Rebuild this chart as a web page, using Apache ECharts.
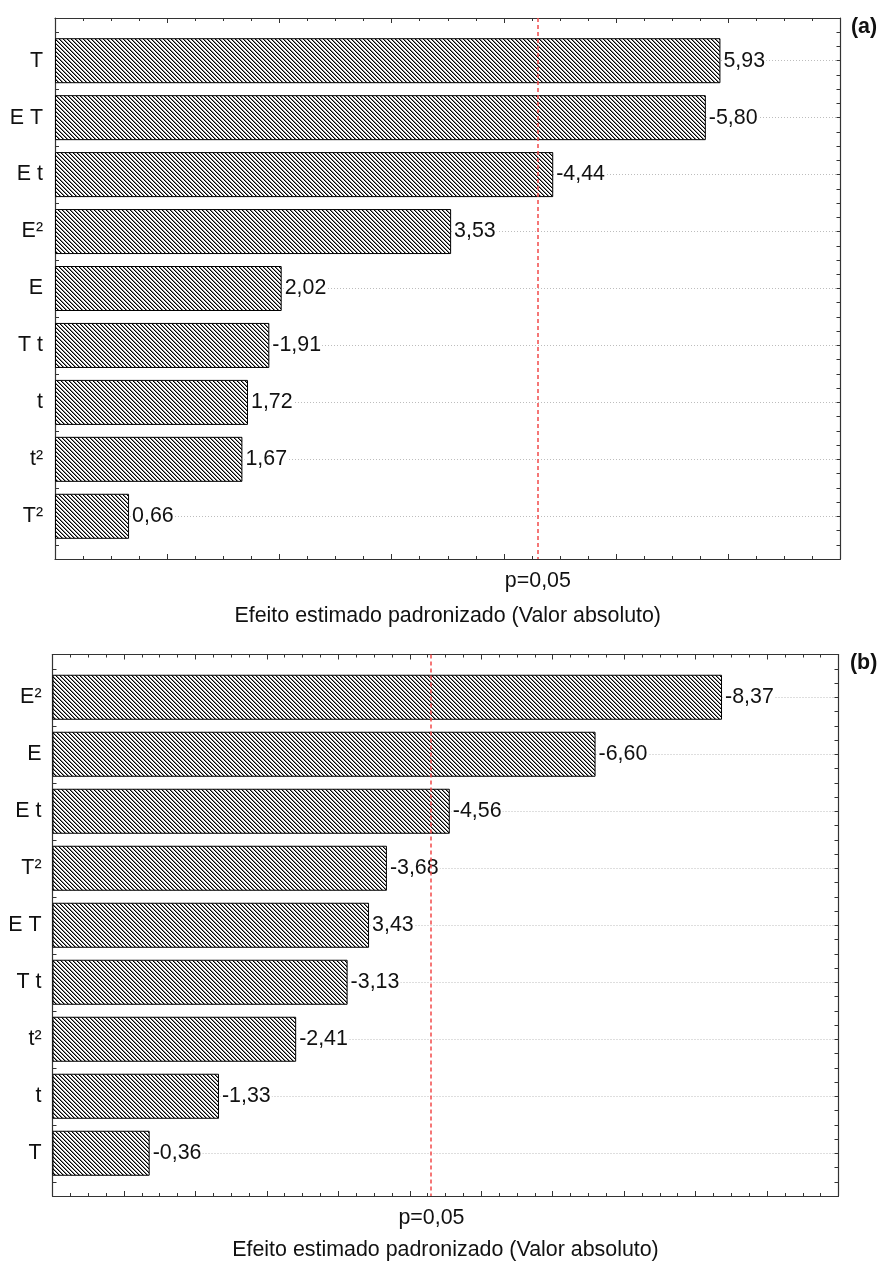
<!DOCTYPE html>
<html>
<head>
<meta charset="utf-8">
<script src="https://cdn.jsdelivr.net/npm/echarts@6/dist/echarts.min.js"></script>
<style>
  html, body { margin: 0; padding: 0; background: #fff; }
  #chart { width: 879px; height: 1263px; }
</style>
</head>
<body>
<div id="chart"></div>
<script>
// Panel (a): standardized effects, in the order shown (largest first)
const termsA = ['T', 'E T', 'E t', 'E²', 'E', 'T t', 't', 't²', 'T²'];
const effectsA = [5.93, -5.80, -4.44, 3.53, 2.02, -1.91, 1.72, 1.67, 0.66];

// Panel (b)
const termsB = ['E²', 'E', 'E t', 'T²', 'E T', 'T t', 't²', 't', 'T'];
const effectsB = [-8.37, -6.60, -4.56, -3.68, 3.43, -3.13, -2.41, -1.33, -0.36];

// Axis ranges of the two panels and the critical t value drawn as p=0,05
const rangeA = [0, 7];
const rangeB = [-1, 10];
const pCritical = 4.303;
const pLabel = 'p=0,05';
const axisTitle = 'Efeito estimado padronizado (Valor absoluto)';
const panelTags = ['(a)', '(b)'];

const FONT = '"Liberation Sans", Arial, sans-serif';
const INK = '#111';
const FS = 21.4;

// Diagonal hatch used to fill the bars
function hatch() {
  const c = document.createElement('canvas');
  c.width = 4; c.height = 4;
  const g = c.getContext('2d');
  g.fillStyle = '#fff';
  g.fillRect(0, 0, 4, 4);
  for (let i = 0; i < 4; i++) {
    g.fillStyle = '#000';
    g.fillRect(i, i, 1, 1);
    g.fillStyle = '#8a8a8a';
    g.fillRect((i + 1) % 4, i, 1, 1);
  }
  return c;
}
const hatchFill = { image: hatch(), repeat: 'repeat' };

const fmt = v => v.toFixed(2).replace('.', ',');
const quarterTicks = [];
for (let k = 1; k <= 37; k++) quarterTicks.push(0.25 + k * 0.25);
const centers = [1, 2, 3, 4, 5, 6, 7, 8, 9];

const grids = [], xAxes = [], yAxes = [], series = [];
const frameLine = { show: true, onZero: false, lineStyle: { color: '#333', width: 1.2 } };

function panel(frame, terms, effects, range, labelMargin, nameGap) {
  const period = frame.height / 9.5;
  const g0 = grids.length;
  grids.push({ left: frame.left, top: frame.top, width: frame.width, height: frame.height });
  grids.push({ left: frame.left, top: frame.top + period * 0.25, width: frame.width, height: period * 9 });
  const gBars = g0 + 1;

  const tickCommon = {
    axisLine: frameLine,
    axisTick: { show: true, inside: true, length: 5, lineStyle: { color: '#333' } },
    minorTick: { show: true, splitNumber: 4, length: 3, lineStyle: { color: '#333' } },
    splitLine: { show: false }
  };
  const xb = xAxes.length;
  xAxes.push(Object.assign({
    type: 'value', gridIndex: g0, position: 'bottom',
    min: range[0], max: range[1], interval: 1,
    axisLabel: {
      show: true, customValues: [pCritical], formatter: () => pLabel,
      margin: 12, fontSize: FS, fontFamily: FONT, color: INK
    },
    name: axisTitle, nameLocation: 'middle', nameGap: nameGap,
    nameTextStyle: { fontSize: FS, fontFamily: FONT, color: INK }
  }, tickCommon));
  xAxes.push(Object.assign({
    type: 'value', gridIndex: g0, position: 'top',
    min: range[0], max: range[1], interval: 1,
    axisLabel: { show: false }
  }, tickCommon));
  const xBars = xAxes.length;
  xAxes.push({
    type: 'value', gridIndex: gBars, show: false,
    min: range[0], max: range[1], startValue: range[0]
  });

  const yFrame = {
    type: 'value', gridIndex: g0, inverse: true,
    min: 0.25, max: 9.75, interval: 0.25,
    axisLine: frameLine,
    axisTick: { show: true, inside: true, length: 4, customValues: quarterTicks, lineStyle: { color: '#333' } },
    axisLabel: { show: false },
    splitLine: { show: false }
  };
  const yl = yAxes.length;
  yAxes.push(Object.assign({ position: 'left' }, yFrame));
  yAxes.push(Object.assign({ position: 'right' }, yFrame));
  // dotted guides through the bar centres
  yAxes.push({
    type: 'value', gridIndex: g0, inverse: true, position: 'left',
    min: 0.25, max: 9.75,
    axisLine: { show: false, onZero: false },
    axisTick: { show: false, customValues: centers },
    axisLabel: { show: false },
    splitLine: { show: true, lineStyle: { color: '#bdbdbd', type: [1, 2], width: 1 } }
  });
  const yBars = yAxes.length;
  yAxes.push({
    type: 'category', gridIndex: gBars, inverse: true, data: terms,
    axisLine: { show: false, onZero: false }, axisTick: { show: false },
    axisLabel: { fontSize: FS, fontFamily: FONT, color: INK, margin: labelMargin },
    splitLine: { show: false }
  });

  series.push({
    type: 'bar',
    xAxisIndex: xBars, yAxisIndex: yBars,
    data: effects.map(v => Math.abs(v)),
    barWidth: 45,
    itemStyle: { color: hatchFill, borderColor: '#000', borderWidth: 1 },
    label: {
      show: true, position: 'right', distance: 2,
      formatter: p => fmt(effects[p.dataIndex]),
      fontSize: FS, fontFamily: FONT, color: INK,
      backgroundColor: '#fff', padding: [0, 1]
    },
    silent: true,
    animation: false
  });
  series.push({
    type: 'line',
    xAxisIndex: xb, yAxisIndex: yl,
    data: [],
    silent: true,
    animation: false,
    markLine: {
      silent: true, symbol: 'none',
      label: { show: false },
      lineStyle: { color: '#f24a4a', type: [4, 3], width: 1.5 },
      data: [{ xAxis: pCritical }],
      animation: false
    },
    z: 5
  });
}

panel({ left: 55, top: 18, width: 785.5, height: 541 }, termsA, effectsA, rangeA, 12, 47);
panel({ left: 52.5, top: 654.5, width: 786, height: 541.5 }, termsB, effectsB, rangeB, 11, 44);

const chart = echarts.init(document.getElementById('chart'), null, { renderer: 'canvas' });
chart.setOption({
  animation: false,
  backgroundColor: '#fff',
  title: [
    { text: panelTags[0], left: 851, top: 17, padding: 0, textStyle: { fontSize: FS, fontWeight: 'bold', fontFamily: FONT, color: INK } },
    { text: panelTags[1], left: 850, top: 653, padding: 0, textStyle: { fontSize: FS, fontWeight: 'bold', fontFamily: FONT, color: INK } }
  ],
  grid: grids,
  xAxis: xAxes,
  yAxis: yAxes,
  series: series
});
</script>
</body>
</html>
